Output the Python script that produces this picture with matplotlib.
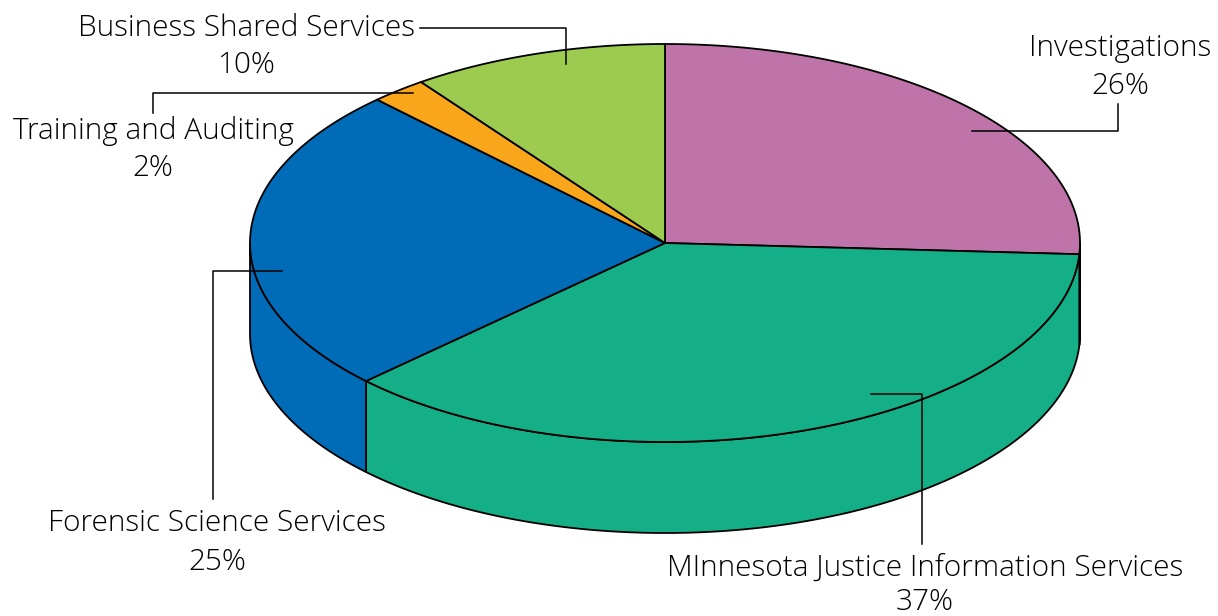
import numpy as np
import matplotlib
matplotlib.use("Agg")
import matplotlib.pyplot as plt

categories = ["Investigations", "MInnesota Justice Information Services",
              "Forensic Science Services", "Training and Auditing",
              "Business Shared Services"]
shares = [25.9, 36.9, 25.0, 2.2, 10.0]
colors = ["#BE73A9", "#15AF87", "#006CB7", "#FAA61A", "#9DCB4F"]

CX, CY, RX, RY, DEPTH = 665, 243, 415, 199, 91
EDGE = "#000000"
LW = 1.3

plt.rcParams['font.family'] = ['Open Sans', 'DejaVu Sans']
fig = plt.figure(figsize=(12.18, 6.16), dpi=100)
ax = fig.add_axes([0, 0, 1, 1])
ax.set_xlim(0, 1218)
ax.set_ylim(616, 0)
ax.axis("off")

def pt(theta):
    return CX + RX * np.sin(theta), CY - RY * np.cos(theta)

edges = np.deg2rad(np.concatenate([[0], np.cumsum(shares)]) * 3.6)

# side walls (visible for angles between 90 and 270 deg clockwise from top)
for i in range(len(shares)):
    a = max(edges[i], np.pi / 2)
    b = min(edges[i + 1], 3 * np.pi / 2)
    if a >= b:
        continue
    t = np.linspace(a, b, 200)
    x, y = pt(t)
    ax.fill(np.r_[x, x[::-1]], np.r_[y, (y + DEPTH)[::-1]],
            facecolor=colors[i], edgecolor=EDGE, linewidth=LW, joinstyle="round", zorder=1)

# top faces
for i in range(len(shares)):
    t = np.linspace(edges[i], edges[i + 1], 200)
    x, y = pt(t)
    ax.fill(np.r_[CX, x], np.r_[CY, y], facecolor=colors[i], edgecolor=EDGE,
            linewidth=LW, joinstyle="round", zorder=2)

labels = [
    (1120, 48, 1120, 86),
    (925, 568, 925, 602),
    (217, 523, 217, 562),
    (153, 131, 153, 168),
    (246, 28, 246, 65),
]
leaders = [
    ([972, 1118, 1118], [131, 131, 104]),
    ([871, 922, 922], [394, 394, 544]),
    ([282, 213, 213], [271, 271, 499]),
    ([413, 153, 153], [93, 93, 113]),
    ([420, 566, 566], [28, 28, 64]),
]
for name, share, (xa, ya, xb, yb) in zip(categories, shares, labels):
    ax.text(xa, ya, name, ha="center", va="center", fontsize=21.4, fontweight="light", color="#000000", zorder=5)
    ax.text(xb, yb, f"{share:.0f}%", ha="center", va="center", fontsize=21.4, fontweight="light", color="#000000", zorder=5)
for lx, ly in leaders:
    ax.plot(lx, ly, color=EDGE, lw=1.1, zorder=4)

fig.savefig("out.png", dpi=100)
